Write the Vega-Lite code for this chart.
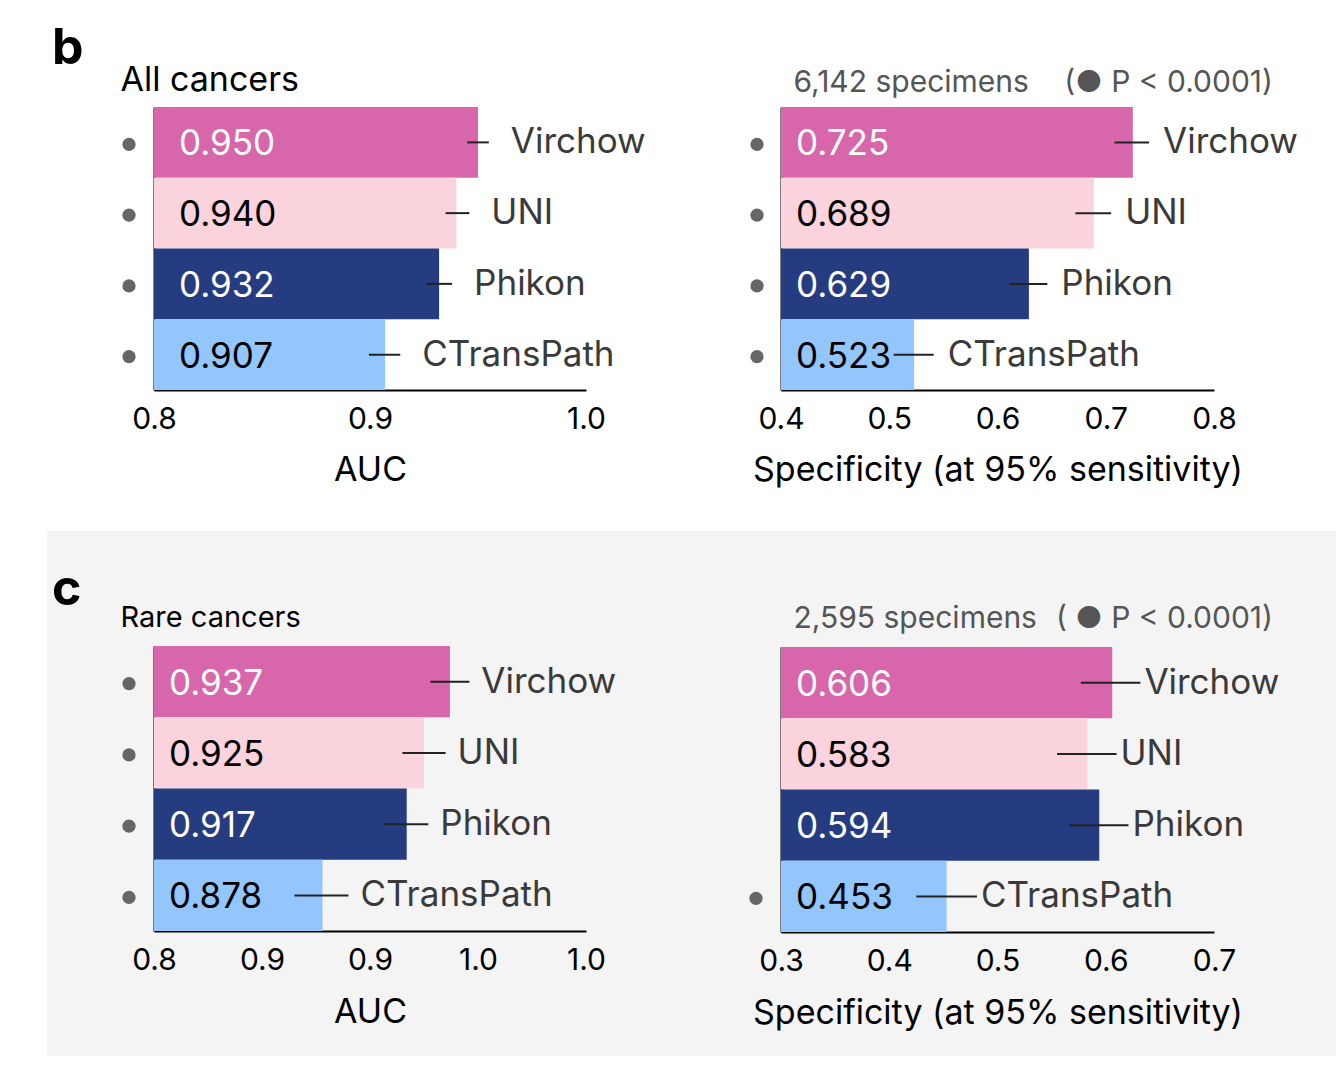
{
  "$schema": "https://vega.github.io/schema/vega-lite/v6.json",
  "padding": {"left": 47, "top": 0, "right": 8, "bottom": 10},
  "background": "#ffffff",
  "spacing": 0,
  "datasets": {
    "bars": [
      {"panel": "all_auc", "model": "Virchow", "value": 0.950, "lo": 0.945, "hi": 0.955, "sig": true},
      {"panel": "all_auc", "model": "UNI", "value": 0.940, "lo": 0.935, "hi": 0.946, "sig": true},
      {"panel": "all_auc", "model": "Phikon", "value": 0.932, "lo": 0.926, "hi": 0.938, "sig": true},
      {"panel": "all_auc", "model": "CTransPath", "value": 0.907, "lo": 0.8995, "hi": 0.914, "sig": true},
      {"panel": "all_spec", "model": "Virchow", "value": 0.725, "lo": 0.708, "hi": 0.740, "sig": true},
      {"panel": "all_spec", "model": "UNI", "value": 0.689, "lo": 0.672, "hi": 0.705, "sig": true},
      {"panel": "all_spec", "model": "Phikon", "value": 0.629, "lo": 0.611, "hi": 0.646, "sig": true},
      {"panel": "all_spec", "model": "CTransPath", "value": 0.523, "lo": 0.504, "hi": 0.541, "sig": true},
      {"panel": "rare_auc", "model": "Virchow", "value": 0.937, "lo": 0.928, "hi": 0.946, "sig": true},
      {"panel": "rare_auc", "model": "UNI", "value": 0.925, "lo": 0.915, "hi": 0.935, "sig": true},
      {"panel": "rare_auc", "model": "Phikon", "value": 0.917, "lo": 0.9065, "hi": 0.927, "sig": true},
      {"panel": "rare_auc", "model": "CTransPath", "value": 0.878, "lo": 0.865, "hi": 0.890, "sig": true},
      {"panel": "rare_spec", "model": "Virchow", "value": 0.606, "lo": 0.577, "hi": 0.632, "sig": false},
      {"panel": "rare_spec", "model": "UNI", "value": 0.583, "lo": 0.555, "hi": 0.610, "sig": false},
      {"panel": "rare_spec", "model": "Phikon", "value": 0.594, "lo": 0.566, "hi": 0.621, "sig": false},
      {"panel": "rare_spec", "model": "CTransPath", "value": 0.453, "lo": 0.425, "hi": 0.481, "sig": true}
    ]
  },
  "vconcat": [
    {
      "spacing": 0,
      "hconcat": [
        {
          "width": 643,
          "height": 531,
          "title": {"text": "b", "fontSize": 50, "fontWeight": "bold", "offset": -74, "dx": 5, "color": "#000000"},
          "data": {"name": "bars"},
          "transform": [{"filter": "datum.panel == 'all_auc'"}],
          "encoding": {
            "y": {"field": "model", "type": "nominal", "sort": ["Virchow", "UNI", "Phikon", "CTransPath"],
              "scale": {"range": [107, 390], "paddingInner": 0, "paddingOuter": 0},
              "axis": {"offset": -107, "labels": false, "title": "All cancers", "titleAngle": 0, "titleX": -34, "titleY": 90, "titleAlign": "left", "titleBaseline": "alphabetic", "titleFontSize": 34}}
          },
          "layer": [
            {"mark": {"type": "bar"},
             "encoding": {
               "x": {"field": "value", "type": "quantitative", "scale": {"domain": [0.8, 1.0], "range": [107, 539], "nice": false, "zero": false},
                     "axis": {"offset": -141, "values": [0.8, 0.9, 1.0], "format": ".1f", "title": "AUC", "titlePadding": 19}},
               "x2": {"datum": 0.8},
               "color": {"field": "model", "type": "nominal", "scale": {"domain": ["Virchow", "UNI", "Phikon", "CTransPath"], "range": ["#d766aa", "#fad3dc", "#263c80", "#93c6fc"]}, "legend": null}
             }},
            {"mark": {"type": "rule", "strokeWidth": 2, "color": "#222222"},
             "encoding": {"x": {"field": "lo", "type": "quantitative"}, "x2": {"field": "hi"}}},
            {"mark": {"type": "text", "align": "left", "baseline": "middle", "dx": 22, "fontSize": 35, "color": "#3a3a3a"},
             "encoding": {"x": {"field": "hi", "type": "quantitative"}, "text": {"field": "model"}}},
            {"mark": {"type": "text", "align": "left", "baseline": "middle", "dx": 25, "dy": 2, "fontSize": 35},
             "encoding": {"x": {"datum": 0.8, "type": "quantitative"}, "text": {"field": "value", "format": ".3f"},
               "color": {"condition": {"test": "datum.model == 'Virchow' || datum.model == 'Phikon'", "value": "#ffffff"}, "value": "#000000"}}},
            {"transform": [{"filter": "datum.sig"}],
             "mark": {"type": "point", "filled": true, "size": 175, "color": "#666666", "opacity": 1, "xOffset": -25, "yOffset": 2},
             "encoding": {"x": {"datum": 0.8, "type": "quantitative"}}}
          ]
        },
        {
          "width": 646,
          "height": 531,
          "title": {"text": "(● P < 0.0001)", "anchor": "end", "fontSize": 30, "fontWeight": "normal", "offset": -98, "dx": -63, "color": "#555555"},
          "data": {"name": "bars"},
          "transform": [{"filter": "datum.panel == 'all_spec'"}],
          "encoding": {
            "y": {"field": "model", "type": "nominal", "sort": ["Virchow", "UNI", "Phikon", "CTransPath"],
              "scale": {"range": [107, 390], "paddingInner": 0, "paddingOuter": 0},
              "axis": {"offset": -91, "labels": false, "title": "6,142 specimens", "titleAngle": 0, "titleX": 12, "titleY": 91, "titleAlign": "left", "titleBaseline": "alphabetic", "titleFontSize": 30, "titleColor": "#555555"}}
          },
          "layer": [
            {"mark": {"type": "bar"},
             "encoding": {
               "x": {"field": "value", "type": "quantitative", "scale": {"domain": [0.4, 0.8], "range": [91, 524], "nice": false, "zero": false},
                     "axis": {"offset": -141, "values": [0.4, 0.5, 0.6, 0.7, 0.8], "format": ".1f", "title": "Specificity (at 95% sensitivity)", "titlePadding": 19}},
               "x2": {"datum": 0.4},
               "color": {"field": "model", "type": "nominal", "scale": {"domain": ["Virchow", "UNI", "Phikon", "CTransPath"], "range": ["#d766aa", "#fad3dc", "#263c80", "#93c6fc"]}, "legend": null}
             }},
            {"mark": {"type": "rule", "strokeWidth": 2, "color": "#222222"},
             "encoding": {"x": {"field": "lo", "type": "quantitative"}, "x2": {"field": "hi"}}},
            {"mark": {"type": "text", "align": "left", "baseline": "middle", "dx": 14, "fontSize": 35, "color": "#3a3a3a"},
             "encoding": {"x": {"field": "hi", "type": "quantitative"}, "text": {"field": "model"}}},
            {"mark": {"type": "text", "align": "left", "baseline": "middle", "dx": 15, "dy": 2, "fontSize": 35},
             "encoding": {"x": {"datum": 0.4, "type": "quantitative"}, "text": {"field": "value", "format": ".3f"},
               "color": {"condition": {"test": "datum.model == 'Virchow' || datum.model == 'Phikon'", "value": "#ffffff"}, "value": "#000000"}}},
            {"transform": [{"filter": "datum.sig"}],
             "mark": {"type": "point", "filled": true, "size": 175, "color": "#666666", "opacity": 1, "xOffset": -24, "yOffset": 2},
             "encoding": {"x": {"datum": 0.4, "type": "quantitative"}}}
          ]
        }
      ]
    },
    {
      "spacing": 0,
      "hconcat": [
        {
          "width": 643,
          "height": 525,
          "view": {"fill": "#f4f4f4", "stroke": null},
          "title": {"text": "c", "fontSize": 50, "fontWeight": "bold", "offset": -84, "dx": 5, "color": "#000000"},
          "data": {"name": "bars"},
          "transform": [{"filter": "datum.panel == 'rare_auc'"}],
          "encoding": {
            "y": {"field": "model", "type": "nominal", "sort": ["Virchow", "UNI", "Phikon", "CTransPath"],
              "scale": {"range": [115, 400], "paddingInner": 0, "paddingOuter": 0},
              "axis": {"offset": -107, "labels": false, "title": "Rare cancers", "titleAngle": 0, "titleX": -34, "titleY": 95, "titleAlign": "left", "titleBaseline": "alphabetic", "titleFontSize": 29}}
          },
          "layer": [
            {"mark": {"type": "bar"},
             "encoding": {
               "x": {"field": "value", "type": "quantitative", "scale": {"domain": [0.8, 1.0], "range": [107, 539], "nice": false, "zero": false},
                     "axis": {"offset": -125, "values": [0.8, 0.85, 0.9, 0.95, 1.0], "labelExpr": "datum.value < 0.84 ? '0.8' : datum.value < 0.93 ? '0.9' : '1.0'", "title": "AUC", "titlePadding": 20}},
               "x2": {"datum": 0.8},
               "color": {"field": "model", "type": "nominal", "scale": {"domain": ["Virchow", "UNI", "Phikon", "CTransPath"], "range": ["#d766aa", "#fad3dc", "#263c80", "#93c6fc"]}, "legend": null}
             }},
            {"mark": {"type": "rule", "strokeWidth": 2, "color": "#222222"},
             "encoding": {"x": {"field": "lo", "type": "quantitative"}, "x2": {"field": "hi"}}},
            {"mark": {"type": "text", "align": "left", "baseline": "middle", "dx": 12, "fontSize": 35, "color": "#3a3a3a"},
             "encoding": {"x": {"field": "hi", "type": "quantitative"}, "text": {"field": "model"}}},
            {"mark": {"type": "text", "align": "left", "baseline": "middle", "dx": 15, "dy": 2, "fontSize": 35},
             "encoding": {"x": {"datum": 0.8, "type": "quantitative"}, "text": {"field": "value", "format": ".3f"},
               "color": {"condition": {"test": "datum.model == 'Virchow' || datum.model == 'Phikon'", "value": "#ffffff"}, "value": "#000000"}}},
            {"transform": [{"filter": "datum.sig"}],
             "mark": {"type": "point", "filled": true, "size": 175, "color": "#666666", "opacity": 1, "xOffset": -25, "yOffset": 2},
             "encoding": {"x": {"datum": 0.8, "type": "quantitative"}}}
          ]
        },
        {
          "width": 646,
          "height": 525,
          "view": {"fill": "#f4f4f4", "stroke": null},
          "title": {"text": "( ● P < 0.0001)", "anchor": "end", "fontSize": 30, "fontWeight": "normal", "offset": -103, "dx": -63, "color": "#555555"},
          "data": {"name": "bars"},
          "transform": [{"filter": "datum.panel == 'rare_spec'"}],
          "encoding": {
            "y": {"field": "model", "type": "nominal", "sort": ["Virchow", "UNI", "Phikon", "CTransPath"],
              "scale": {"range": [116, 401], "paddingInner": 0, "paddingOuter": 0},
              "axis": {"offset": -91, "labels": false, "title": "2,595 specimens", "titleAngle": 0, "titleX": 12, "titleY": 96, "titleAlign": "left", "titleBaseline": "alphabetic", "titleFontSize": 30, "titleColor": "#555555"}}
          },
          "layer": [
            {"mark": {"type": "bar"},
             "encoding": {
               "x": {"field": "value", "type": "quantitative", "scale": {"domain": [0.3, 0.7], "range": [91, 524], "nice": false, "zero": false},
                     "axis": {"offset": -124, "values": [0.3, 0.4, 0.5, 0.6, 0.7], "format": ".1f", "title": "Specificity (at 95% sensitivity)", "titlePadding": 20}},
               "x2": {"datum": 0.3},
               "color": {"field": "model", "type": "nominal", "scale": {"domain": ["Virchow", "UNI", "Phikon", "CTransPath"], "range": ["#d766aa", "#fad3dc", "#263c80", "#93c6fc"]}, "legend": null}
             }},
            {"mark": {"type": "rule", "strokeWidth": 2, "color": "#222222"},
             "encoding": {"x": {"field": "lo", "type": "quantitative"}, "x2": {"field": "hi"}}},
            {"mark": {"type": "text", "align": "left", "baseline": "middle", "dx": 4, "fontSize": 35, "color": "#3a3a3a"},
             "encoding": {"x": {"field": "hi", "type": "quantitative"}, "text": {"field": "model"}}},
            {"mark": {"type": "text", "align": "left", "baseline": "middle", "dx": 15, "dy": 2, "fontSize": 35},
             "encoding": {"x": {"datum": 0.3, "type": "quantitative"}, "text": {"field": "value", "format": ".3f"},
               "color": {"condition": {"test": "datum.model == 'Virchow' || datum.model == 'Phikon'", "value": "#ffffff"}, "value": "#000000"}}},
            {"transform": [{"filter": "datum.sig"}],
             "mark": {"type": "point", "filled": true, "size": 175, "color": "#666666", "opacity": 1, "xOffset": -25, "yOffset": 2},
             "encoding": {"x": {"datum": 0.3, "type": "quantitative"}}}
          ]
        }
      ]
    }
  ],
  "config": {
    "font": "Inter",
    "view": {"stroke": null},
    "axis": {"grid": false, "ticks": false, "tickSize": 0, "domainColor": "#000000", "domainWidth": 2,
      "labelFont": "Inter", "labelFontSize": 30, "labelColor": "#000000", "labelPadding": 14,
      "labelFlush": false, "labelOverlap": false, "labelBound": false,
      "titleFont": "Inter", "titleFontSize": 34, "titleFontWeight": "normal", "titleColor": "#000000"},
    "title": {"font": "Inter", "anchor": "start", "frame": "group", "baseline": "alphabetic"}
  }
}
